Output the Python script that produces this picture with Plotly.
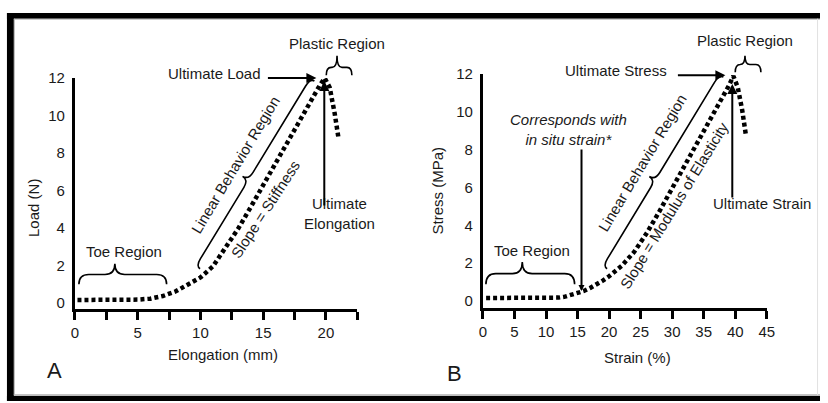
import math
import plotly.graph_objects as go

W, H = 828, 403

# ---------------- data ----------------
elongation_mm = [0.2, 1, 2, 3, 4, 5, 6, 7, 8, 9, 10, 11, 12, 13, 14, 15, 16, 17, 18, 19,
                 19.5, 19.9, 20.3, 20.7, 21.0]
load_n = [0.15, 0.15, 0.15, 0.15, 0.15, 0.17, 0.22, 0.36, 0.6, 0.95, 1.35, 1.95, 2.9, 3.95,
          5.1, 6.3, 7.5, 8.7, 9.9, 11.0, 11.6, 12.0, 11.5, 10.1, 8.8]

strain_pct = [0.5, 2, 4, 6, 8, 10, 12, 13, 14, 15, 16, 17, 18, 19, 20, 22, 24, 26, 28, 30,
              32, 34, 36, 38, 39, 39.7, 40.4, 41.1, 41.7]
stress_mpa = [0.15, 0.15, 0.15, 0.15, 0.15, 0.15, 0.17, 0.22, 0.3, 0.4, 0.52, 0.68, 0.86,
              1.07, 1.3, 1.85, 2.6, 3.6, 4.75, 5.95, 7.15, 8.35, 9.55, 10.8, 11.4, 11.9,
              11.3, 10.1, 8.75]

left_xtick_vals = [0, 2.5, 5, 7.5, 10, 12.5, 15, 17.5, 20, 22.5]
left_xtick_text = ["0", "", "5", "", "10", "", "15", "", "20", ""]
right_xtick_vals = [0, 5, 10, 15, 20, 25, 30, 35, 40, 45]
right_xtick_text = ["0", "5", "10", "15", "20", "25", "30", "35", "40", "45"]
ytick_vals = [0, 2, 4, 6, 8, 10, 12]
ytick_text = ["0", "2", "4", "6", "8", "10", "12"]

FONT = "Liberation Sans, Arial, sans-serif"
TXT = "#1a1a1a"


def px(x):
    return x / W


def py(y):
    return 1 - y / H


fig = go.Figure()
dot_line = dict(color="black", width=4.5, dash="4px,3px")
fig.add_trace(go.Scatter(x=elongation_mm, y=load_n, mode="lines", line=dot_line,
                         xaxis="x", yaxis="y", hoverinfo="skip", cliponaxis=False))
fig.add_trace(go.Scatter(x=strain_pct, y=stress_mpa, mode="lines", line=dot_line,
                         xaxis="x2", yaxis="y2", hoverinfo="skip", cliponaxis=False))

axis_common = dict(showline=True, linewidth=3, linecolor="black", showgrid=False,
                   zeroline=False, tickfont=dict(family=FONT, size=15, color=TXT))
xax = dict(ticks="outside", ticklen=8, tickwidth=3, tickcolor="black", **axis_common)
yax = dict(ticks="outside", ticklen=4, tickwidth=1, tickcolor="rgba(0,0,0,0)",
           tickvals=ytick_vals, ticktext=ytick_text, **axis_common)

fig.update_layout(
    width=W, height=H, autosize=False,
    margin=dict(l=0, r=0, t=0, b=0),
    paper_bgcolor="white", plot_bgcolor="white",
    showlegend=False,
    xaxis=dict(domain=[px(72), px(358.5)], range=[0, 22.5], anchor="y",
               tickvals=left_xtick_vals, ticktext=left_xtick_text, **xax),
    yaxis=dict(domain=[py(308), py(71)], range=[-0.31, 12], anchor="x", **yax),
    xaxis2=dict(domain=[px(486), px(774)], range=[0, 45], anchor="y2",
                tickvals=right_xtick_vals, ticktext=right_xtick_text, **xax),
    yaxis2=dict(domain=[py(307), py(67)], range=[-0.36, 12], anchor="x2", **yax),
)

shapes = []
# frame
shapes.append(dict(type="rect", xref="paper", yref="paper", x0=px(3), x1=1, y0=py(10), y1=py(4),
                   fillcolor="black", line=dict(width=0), layer="above"))
shapes.append(dict(type="rect", xref="paper", yref="paper", x0=px(3), x1=px(10), y0=0, y1=py(4),
                   fillcolor="black", line=dict(width=0), layer="above"))
shapes.append(dict(type="rect", xref="paper", yref="paper", x0=px(3), x1=1, y0=0, y1=py(397.5),
                   fillcolor="black", line=dict(width=0), layer="above"))
for (x0, y0, x1, y1, c) in [(10, 10.5, 828, 10.5, "#b8b8b8"), (10.5, 10, 10.5, 397, "#b8b8b8"),
                            (10, 396.5, 828, 396.5, "#b8b8b8"), (825.5, 10, 825.5, 397, "#e2e2e2")]:
    shapes.append(dict(type="line", xref="paper", yref="paper", x0=px(x0), y0=py(y0),
                       x1=px(x1), y1=py(y1), line=dict(color=c, width=1)))


def brace(ax_, ay_, bx, by, tip_frac=0.5, b=6, t=14, r=8, side=-1):
    dx, dy = bx - ax_, by - ay_
    L = math.hypot(dx, dy)
    ux, uy = dx / L, dy / L
    nx, ny = -uy * side, ux * side

    def P(s, v):
        X = ax_ + ux * s + nx * v
        Y = ay_ + uy * s + ny * v
        return f"{X / W:.5f},{1 - Y / H:.5f}"

    m = L * tip_frac
    path = (f"M{P(0, 0)} Q{P(0, b)} {P(r, b)} L{P(m - r, b)} Q{P(m, b)} {P(m, t)} "
            f"Q{P(m, b)} {P(m + r, b)} L{P(L - r, b)} Q{P(L, b)} {P(L, 0)}")
    return dict(type="path", xref="paper", yref="paper", path=path,
                line=dict(color="black", width=1.6))


# left panel braces
shapes.append(brace(76, 283, 165, 283, tip_frac=0.41, b=10, t=21, r=10))
shapes.append(brace(327, 68, 353, 68, tip_frac=0.42, b=8, t=20, r=5))
shapes.append(brace(199, 267, 315, 74, tip_frac=0.46, b=5, t=12, r=9))
# right panel braces
shapes.append(brace(489, 283, 579, 283, tip_frac=0.41, b=11, t=23, r=10))
shapes.append(brace(742, 65, 768, 65, tip_frac=0.38, b=8, t=17, r=5))
shapes.append(brace(612, 267, 730, 70, tip_frac=0.45, b=5, t=12, r=9))

fig.update_layout(shapes=shapes)

ann = []


def text(x, y, s, size=15, xanchor="center", angle=0, italic=False):
    if italic:
        s = "<br>".join(f"<i>{p}</i>" for p in s.split("<br>"))
    ann.append(dict(x=px(x), y=py(y), xref="paper", yref="paper", text=s, showarrow=False,
                    xanchor=xanchor, yanchor="middle", textangle=angle,
                    font=dict(family=FONT, size=size, color=TXT)))


def arrow(tx, ty, hx, hy, size=1.0):
    ann.append(dict(x=px(hx), y=py(hy), xref="paper", yref="paper", text="",
                    showarrow=True, ax=tx - hx, ay=ty - hy, axref="pixel", ayref="pixel",
                    arrowhead=2, arrowsize=size, arrowwidth=2, arrowcolor="black",
                    standoff=0, startstandoff=0))


# left panel texts
text(338, 35, "Plastic Region")
text(263, 66, "Ultimate Load", xanchor="right")
text(340, 210, "Ultimate<br>Elongation")
text(122, 249, "Toe Region")
text(235, 160, "Linear Behavior Region", angle=-59)
text(265, 206, "Slope = Stiffness", angle=-57)
text(51, 372, "A", size=22)
text(30, 205, "Load (N)", angle=-90)
text(222, 355, "Elongation (mm)")
arrow(267, 71, 317, 71)
arrow(325, 200, 325, 74)

# right panel texts
text(752, 32, "Plastic Region")
text(675, 63, "Ultimate Stress", xanchor="right")
text(769, 200, "Ultimate Strain")
text(573, 124, "Corresponds with<br>in situ strain*", italic=True)
text(536, 248, "Toe Region")
text(648, 158, "Linear Behavior Region", angle=-59)
text(680, 202, "Slope = Modulus of Elasticity", angle=-58.5)
text(457, 375, "B", size=22)
text(440, 187, "Stress (MPa)", angle=-90)
text(643, 358, "Strain (%)")
arrow(683, 68, 732, 68)
arrow(739, 192, 739, 77)
arrow(586, 147, 586, 290, size=0.6)

fig.update_layout(annotations=ann)

fig.write_html("out.html", config={"displayModeBar": False},
               post_script="document.body.style.margin='0';document.body.style.overflow='hidden';")
